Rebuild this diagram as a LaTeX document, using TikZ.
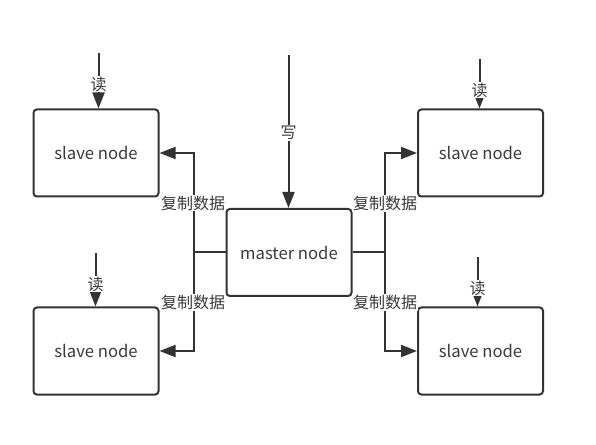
\documentclass[tikz,border=0pt]{standalone}
\usepackage{fontspec}
\setmainfont{Noto Sans CJK SC}
\usetikzlibrary{arrows.meta}
\definecolor{ln}{HTML}{333333}
\definecolor{tx}{HTML}{3a3a3a}
\begin{document}
\begin{tikzpicture}[x=0.75pt,y=-0.75pt,
  box/.style={draw=ln,line width=1.5pt,rounded corners=2.5pt,minimum width=93.75pt,minimum height=65.25pt,inner sep=0pt,text=tx,font=\fontsize{12.5pt}{14pt}\selectfont},
  conn/.style={draw=ln,line width=1.5pt},
  arr/.style={conn,-{Triangle[length=12pt,width=9pt]}},
  lbl/.style={fill=white,inner sep=0.5pt,text=tx,font=\fontsize{12pt}{14pt}\selectfont}]
\useasboundingbox (0,0) rectangle (596,445);
% nodes
\node[box] (tl) at (96,153) {slave node};
\node[box] (bl) at (96,351) {slave node};
\node[box] (tr) at (480.5,153) {slave node};
\node[box] (br) at (480.5,351) {slave node};
\node[box] (m) at (289,252.5) {master node};
% junctions
\coordinate (jl) at (193.5,252.5);
\coordinate (jr) at (385,252.5);
% replication connectors
\draw[conn] (m.west) -- (jl);
\draw[conn] (m.east) -- (jr);
\draw[arr] (jl) |- (tl.east);
\draw[arr] (jl) |- (bl.east);
\draw[arr] (jr) |- (tr.west);
\draw[arr] (jr) |- (br.west);
\node[lbl] (c1) at (193,203) {复制数据};
\node[lbl] (c2) at (193,302.5) {复制数据};
\node[lbl] (c3) at (385,203.5) {复制数据};
\node[lbl] (c4) at (385,302.5) {复制数据};
% read arrows
\coordinate (r1) at (98.5,53);
\coordinate (r2) at (479.5,59);
\coordinate (r3) at (95.5,253);
\coordinate (r4) at (477.5,257);
\draw[arr] (r1) -- (r1 |- tl.north);
\draw[arr] (r2) -- (r2 |- tr.north);
\draw[arr] (r3) -- (r3 |- bl.north);
\draw[arr] (r4) -- (r4 |- br.north);
\node[lbl] (d1) at (98.5,84) {读};
\node[lbl] (d2) at (479.5,90) {读};
\node[lbl] (d3) at (95.5,284) {读};
\node[lbl] (d4) at (477.5,288) {读};
% write arrow
\coordinate (w) at (288.5,55);
\draw[arr] (w) -- (w |- m.north);
\node[lbl] (wl) at (288.5,133) {写};
\end{tikzpicture}
\end{document}
